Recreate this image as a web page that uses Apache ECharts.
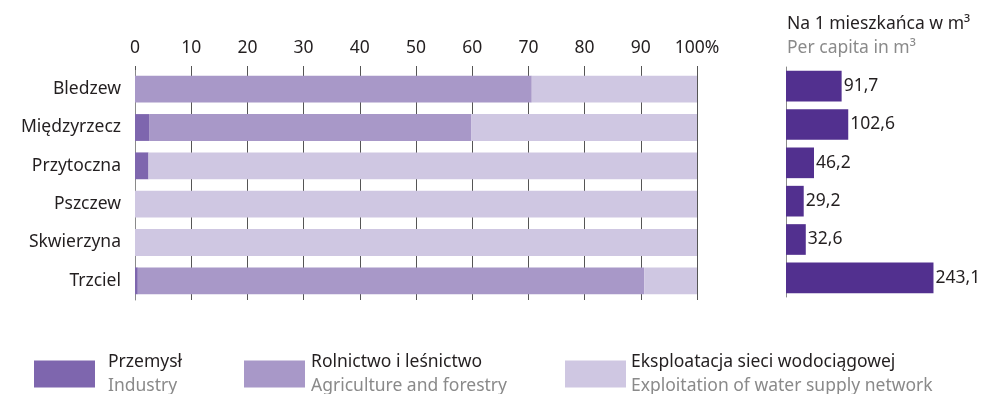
<!DOCTYPE html>
<html><head><meta charset="utf-8">
<script src="https://cdn.jsdelivr.net/npm/echarts@6/dist/echarts.min.js"></script>
<style>html,body{margin:0;padding:0;background:#fff}#c{width:984px;height:394px}</style>
</head><body><div id="c"></div>
<script>
const categories = ['Bledzew','Międzyrzecz','Przytoczna','Pszczew','Skwierzyna','Trzciel'];
const industry = [0, 2.6, 2.4, 0, 0, 0.5];
const agriculture = [70.6, 57.2, 0, 0, 0, 90.1];
const waterSupply = [29.4, 40.2, 97.6, 100, 100, 9.4];
const perCapita = [91.7, 102.6, 46.2, 29.2, 32.6, 243.1];
const percentTicks = [0,10,20,30,40,50,60,70,80,90,100];
const seriesNames = ['Przemysł','Rolnictwo i leśnictwo','Eksploatacja sieci wodociągowej'];
const seriesNamesEn = ['Industry','Agriculture and forestry','Exploitation of water supply network'];

const FONT = 'Noto Sans';
const FS = 17.5;
const colors = ['#7e66ae','#a898c8','#cfc7e2'];
const chart = echarts.init(document.getElementById('c'));
function legendFor(i, left, pad){
  return {
    left: left, top: 353, padding:0, orient:'horizontal', selectedMode:false,
    icon:'rect', itemWidth:61, itemHeight:27,
    data:[seriesNames[i]],
    formatter: n => '{a|'+n+'}\n{b|'+seriesNamesEn[seriesNames.indexOf(n)]+'}',
    textStyle:{padding:[0,0,0,pad], rich:{
      a:{fontFamily:FONT,fontSize:FS,color:'#231f20',lineHeight:24},
      b:{fontFamily:FONT,fontSize:FS,color:'#8a8a8a',lineHeight:24}}}
  };
}
const stackData = [industry, agriculture, waterSupply];
chart.setOption({
  animation:false,
  textStyle:{fontFamily:FONT},
  title:[
    {text:'Na 1 mieszkańca w m³', left:782, top:10, textStyle:{fontFamily:FONT,fontSize:FS,fontWeight:'normal',color:'#231f20'}},
    {text:'Per capita in m³', left:782, top:34, textStyle:{fontFamily:FONT,fontSize:FS,fontWeight:'normal',color:'#8a8a8a'}}
  ],
  legend:[legendFor(0,34,8), legendFor(1,244,1), legendFor(2,565,0)],
  grid:[
    {left:135, right:984-697, top:70, bottom:394-300},
    {left:786, right:16, top:67, bottom:394-297}
  ],
  xAxis:[
    {gridIndex:0, type:'value', position:'top', min:0, max:100, interval:10,
     axisLine:{show:false},
     axisTick:{show:true, length:4, lineStyle:{color:'#555'}},
     splitLine:{show:true, lineStyle:{color:'#555', width:1}},
     axisLabel:{margin:13, fontFamily:FONT, fontSize:FS, color:'#231f20',
       formatter:v => v===100 ? '100%' : String(v)}},
    {gridIndex:1, type:'value', min:0, max:300, show:false}
  ],
  yAxis:[
    {gridIndex:0, type:'category', inverse:true, data:categories,
     axisLine:{show:true, lineStyle:{color:'#8a8a8a'}}, axisTick:{show:false},
     axisLabel:{margin:14, fontFamily:FONT, fontSize:FS, color:'#231f20'}},
    {gridIndex:1, type:'category', inverse:true, data:categories,
     axisLine:{show:true, lineStyle:{color:'#8a8a8a'}}, axisTick:{show:false},
     axisLabel:{show:false}}
  ],
  series: stackData.map((d,i)=>({
    name:seriesNames[i], type:'bar', stack:'s', xAxisIndex:0, yAxisIndex:0,
    barWidth:'70%', data:d, itemStyle:{color:colors[i]}, z:3
  })).concat([{
    name:'perCapita', type:'bar', xAxisIndex:1, yAxisIndex:1, barWidth:'80%',
    data:perCapita, itemStyle:{color:'#52308f'},
    label:{show:true, position:'right', distance:2, fontFamily:FONT, fontSize:FS, color:'#231f20',
      formatter:p => p.value.toFixed(1).replace('.',',')}
  }])
});
</script></body></html>
